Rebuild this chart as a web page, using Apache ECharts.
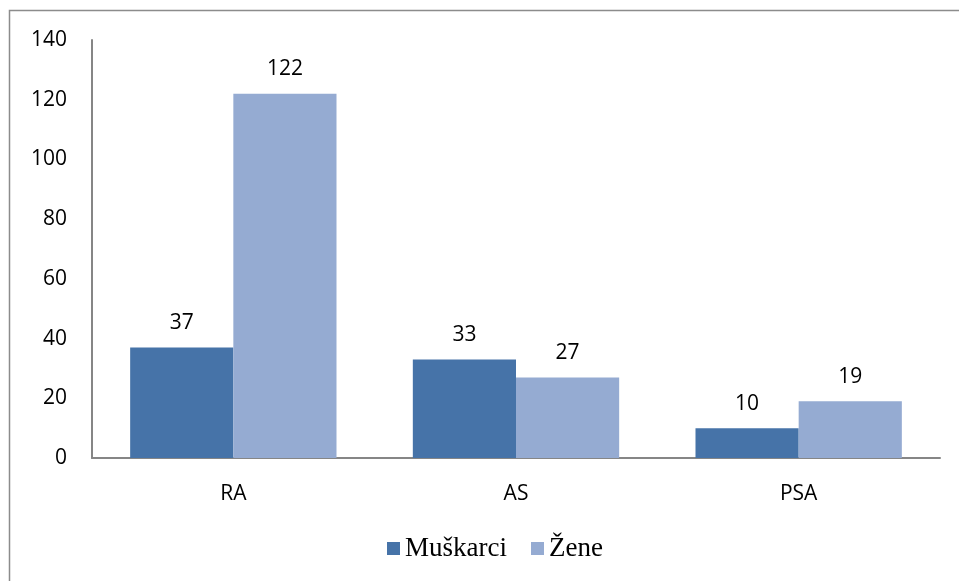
<!DOCTYPE html>
<html>
<head>
<meta charset="utf-8">
<script src="https://cdn.jsdelivr.net/npm/echarts@6/dist/echarts.min.js"></script>
<style>
  html, body { margin: 0; padding: 0; background: #fff; }
  #chart { width: 959px; height: 581px; }
</style>
</head>
<body>
<div id="chart"></div>
<script>
const categories = ['RA', 'AS', 'PSA'];
const seriesNames = ['Muškarci', 'Žene'];
const muskarci = [37, 33, 10];
const zene = [122, 27, 19];
const yTicks = { min: 0, max: 140, interval: 20 };

const chart = echarts.init(document.getElementById('chart'));

const labelStyle = {
  show: true,
  position: 'top',
  distance: 14,
  color: '#000',
  fontFamily: 'Open Sans',
  fontSize: 21
};

chart.setOption({
  animation: false,
  graphic: [{
    type: 'rect',
    shape: { x: 9.5, y: 10.5, width: 960, height: 580 },
    style: { fill: 'none', stroke: '#8c8c8c', lineWidth: 1.5 },
    silent: true
  }],
  legend: {
    data: seriesNames,
    bottom: 14,
    left: 382,
    itemWidth: 13,
    itemHeight: 13,
    itemGap: 24,
    icon: 'rect',
    textStyle: { fontFamily: 'Liberation Serif', fontSize: 27, color: '#000' }
  },
  grid: { left: 92, right: 19, top: 40, bottom: 123 },
  xAxis: {
    type: 'category',
    data: categories,
    axisTick: { show: false },
    axisLine: { lineStyle: { color: '#868686', width: 2 } },
    axisLabel: { color: '#000', fontFamily: 'Open Sans', fontSize: 21, margin: 26 }
  },
  yAxis: {
    type: 'value',
    min: yTicks.min,
    max: yTicks.max,
    interval: yTicks.interval,
    axisLine: { show: true, lineStyle: { color: '#868686', width: 2 } },
    axisTick: { show: false },
    splitLine: { show: false },
    axisLabel: { color: '#000', fontFamily: 'Open Sans', fontSize: 21, margin: 25 }
  },
  series: [
    {
      name: seriesNames[0],
      type: 'bar',
      data: muskarci,
      barGap: '0%',
      barCategoryGap: '27%',
      itemStyle: { color: '#4673a8' },
      label: labelStyle
    },
    {
      name: seriesNames[1],
      type: 'bar',
      data: zene,
      itemStyle: { color: '#95abd2' },
      label: labelStyle
    }
  ]
});
</script>
</body>
</html>
